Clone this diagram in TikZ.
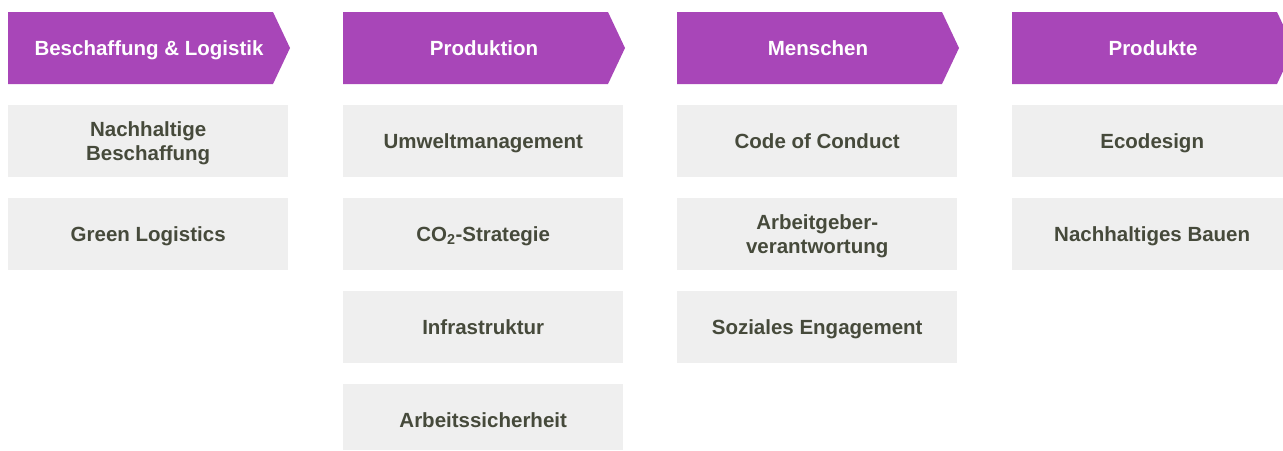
\documentclass[tikz,border=0pt]{standalone}
\usepackage{fontspec}
\setmainfont{Liberation Sans}
\definecolor{hdr}{HTML}{A846B8}
\definecolor{boxbg}{HTML}{EFEFEF}
\definecolor{txt}{HTML}{464A3B}
\tikzset{
  hdrtext/.style={text=white, font=\bfseries\fontsize{20.5}{24}\selectfont, anchor=base, inner sep=0pt},
  item/.style={fill=boxbg, draw=none, minimum width=280pt, minimum height=72pt, inner sep=0pt, anchor=north west},
  itemtext/.style={text=txt, font=\bfseries\fontsize{20.5}{24}\selectfont, align=center, inner sep=0pt, anchor=base},
}
% #1 height, #2 name, #3 position, #4 baseline offset below centre, #5 text
\newcommand{\itm}[5][72]{%
  \node[item, minimum height=#1pt] (#2) at #3 {};
  \node[itemtext] (#2t) at ([yshift=-#4pt]#2.center) {#5};
}
\begin{document}
\begin{tikzpicture}[x=1pt,y=-1pt]
\useasboundingbox (0,0) rectangle (1283,450);
\foreach \c/\x/\t in {a/8/{Beschaffung \& Logistik}, b/343/Produktion, c/677/Menschen, d/1012/Produkte}{
  \fill[hdr] (\x,12) -- (\x+265,12) -- (\x+282,48) -- (\x+265,84) -- (\x,84) -- cycle;
  \node[hdrtext] (h\c) at (\x+141,55.4) {\t};
}
% column 1
\itm{a1}{(8,105)}{19.4}{Nachhaltige\\Beschaffung}
\itm{a2}{(8,198)}{7.4}{Green Logistics}
% column 2
\itm{b1}{(343,105)}{7.4}{Umweltmanagement}
\itm{b2}{(343,198)}{7.4}{CO\textsubscript{2}-Strategie}
\itm{b3}{(343,291)}{7.4}{Infrastruktur}
\itm[66]{b4}{(343,384)}{10.4}{Arbeitssicherheit}
% column 3
\itm{c1}{(677,105)}{7.4}{Code of Conduct}
\itm{c2}{(677,198)}{19.4}{Arbeitgeber-\\verantwortung}
\itm{c3}{(677,291)}{7.4}{Soziales Engagement}
% column 4
\itm{d1}{(1012,105)}{7.4}{Ecodesign}
\itm{d2}{(1012,198)}{7.4}{Nachhaltiges Bauen}
\end{tikzpicture}
\end{document}
